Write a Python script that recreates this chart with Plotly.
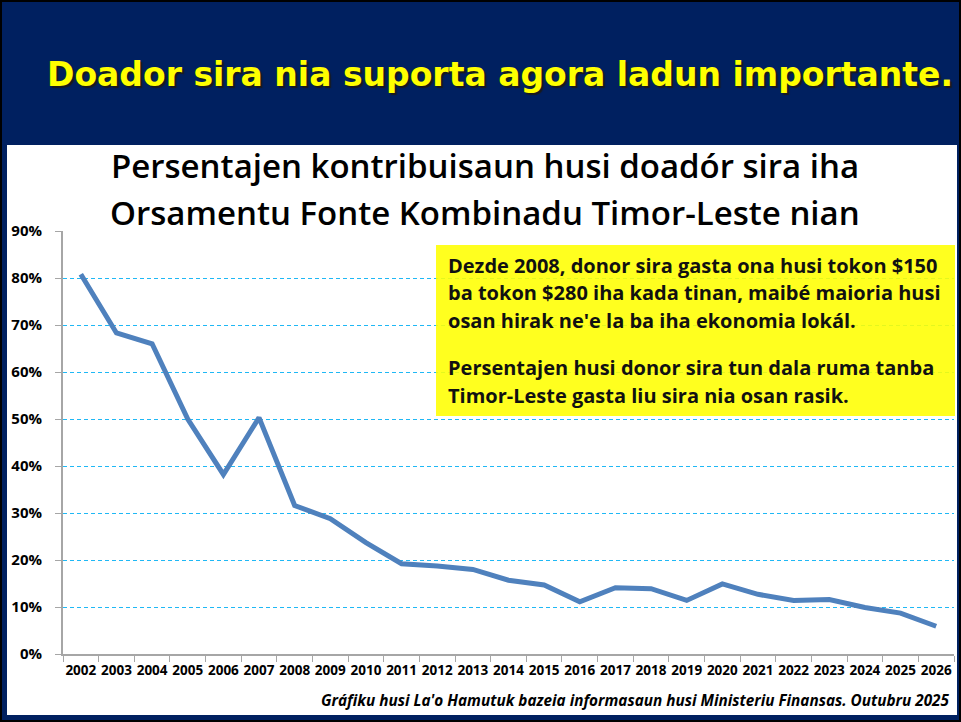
import plotly.graph_objects as go

years = [str(y) for y in range(2002, 2027)]
donor_share = [0.808, 0.683, 0.660, 0.500, 0.382, 0.503, 0.316, 0.288, 0.237,
               0.192, 0.187, 0.180, 0.157, 0.147, 0.111, 0.141, 0.139, 0.114,
               0.149, 0.127, 0.114, 0.116, 0.099, 0.087, 0.059]
y_ticks = [0, 0.1, 0.2, 0.3, 0.4, 0.5, 0.6, 0.7, 0.8, 0.9]
y_tick_labels = ["0%", "10%", "20%", "30%", "40%", "50%", "60%", "70%", "80%", "90%"]

banner_title = "Doador sira nia suporta agora ladun importante."
chart_title = ["Persentajen kontribuisaun husi doadór sira iha",
               "Orsamentu Fonte Kombinadu Timor-Leste nian"]
box_lines = ["Dezde 2008, donor sira gasta ona husi tokon $150",
             "ba tokon $280 iha kada tinan, maibé maioria husi",
             "osan hirak ne'e la ba iha ekonomia lokál.",
             "Persentajen husi donor sira tun dala ruma tanba",
             "Timor-Leste gasta liu sira nia osan rasik."]
footer = "Gráfiku husi La'o Hamutuk bazeia informasaun husi Ministeriu Finansas. Outubru 2025"

W, H = 961, 722
L, R, T, B = 63, 7, 231, 68
PW, PH = W - L - R, H - T - B
NAVY = "#002060"
FONT = "Open Sans"


def px(x):
    return (x - L) / PW


def py(y):
    return (H - B - y) / PH


fig = go.Figure()
fig.add_trace(go.Scatter(x=years, y=donor_share, mode="lines",
                         line=dict(color="#4f81bd", width=5),
                         hoverinfo="x+y", showlegend=False))

shapes = [
    dict(type="rect", xref="paper", yref="paper", x0=px(7), x1=px(957),
         y0=py(715), y1=py(145), fillcolor="white", line=dict(width=0), layer="below"),
    dict(type="rect", xref="paper", yref="paper", x0=px(436), x1=px(955),
         y0=py(416), y1=py(245), fillcolor="rgba(255,255,0,0.88)",
         line=dict(width=0), layer="above"),
    dict(type="rect", xref="paper", yref="paper", x0=px(1), x1=px(960),
         y0=py(721), y1=py(1), fillcolor="rgba(0,0,0,0)",
         line=dict(color="black", width=2), layer="above"),
]

annotations = [
    dict(text=banner_title, xref="paper", yref="paper", x=px(500), y=py(74),
         xanchor="center", yanchor="middle", showarrow=False,
         font=dict(family="DejaVu Sans", size=33, color="#ffff00", weight="bold",
                   shadow="2px 2px 1px #1a1a1a")),
    dict(text=chart_title[0], xref="paper", yref="paper", x=px(485), y=py(166),
         xanchor="center", yanchor="middle", showarrow=False,
         font=dict(family=FONT, size=33, color="black", weight=600)),
    dict(text=chart_title[1], xref="paper", yref="paper", x=px(485), y=py(213),
         xanchor="center", yanchor="middle", showarrow=False,
         font=dict(family=FONT, size=33, color="black", weight=600)),
    dict(text=footer, xref="paper", yref="paper", x=px(952), y=py(700),
         xanchor="right", yanchor="middle", showarrow=False,
         font=dict(family=FONT, size=15.3, color="black", weight="bold", style="italic")),
]
box_y = [265, 292, 320, 367, 395]
for t, yy in zip(box_lines, box_y):
    annotations.append(dict(text=t, xref="paper", yref="paper", x=px(446), y=py(yy),
                            xanchor="left", yanchor="middle", showarrow=False,
                            font=dict(family=FONT, size=20, color="#111111", weight="bold")))

fig.update_layout(
    width=W, height=H,
    margin=dict(l=L, r=R, t=T, b=B, pad=0),
    paper_bgcolor=NAVY,
    plot_bgcolor="rgba(0,0,0,0)",
    shapes=shapes,
    annotations=annotations,
    xaxis=dict(type="category", range=[-0.5, len(years) - 0.5],
               automargin=False, tickangle=0,
               showgrid=False, zeroline=False,
               showline=True, linecolor="#a6a6a6", linewidth=2,
               ticks="outside", tickson="boundaries", ticklen=6, tickcolor="#a6a6a6",
               tickwidth=1,
               tickfont=dict(family=FONT, size=13.5, color="black", weight="bold"),
               ticklabelstandoff=3),
    yaxis=dict(range=[0, 0.9], tickvals=y_ticks, ticktext=y_tick_labels,
               automargin=False,
               showgrid=True, gridcolor="#1fb8f5", griddash="4px,3px", gridwidth=1,
               zeroline=False,
               showline=True, linecolor="#a6a6a6", linewidth=2,
               ticks="outside", ticklen=6, tickcolor="#a6a6a6", tickwidth=1,
               tickfont=dict(family=FONT, size=15, color="black", weight="bold"),
               ticklabelstandoff=10),
)

fig.write_html("out.html", config={"displayModeBar": False},
               post_script="document.body.style.margin='0';document.body.style.overflow='hidden';")
